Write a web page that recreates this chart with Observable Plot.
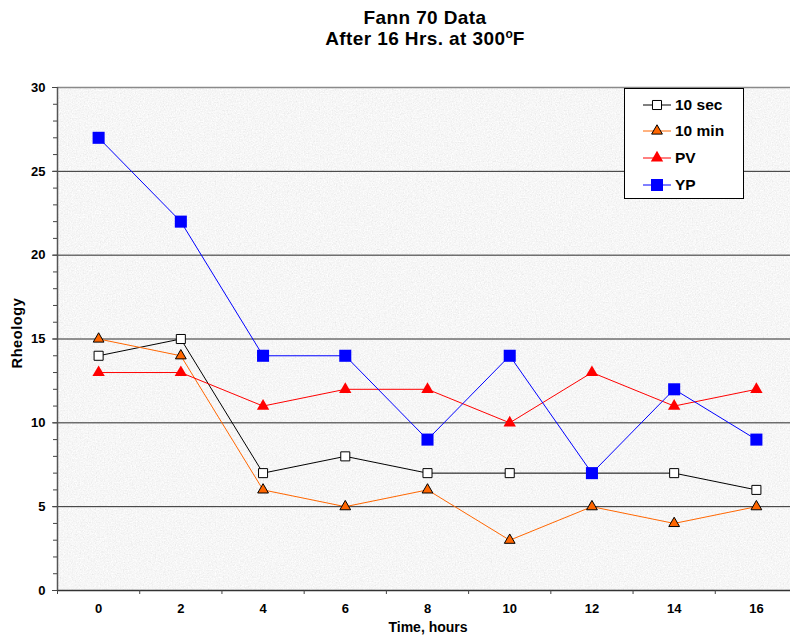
<!DOCTYPE html>
<html><head><meta charset="utf-8">
<script src="https://cdn.jsdelivr.net/npm/d3@7"></script>
<script src="https://cdn.jsdelivr.net/npm/@observablehq/plot@0.6"></script>
<style>
body{margin:0;background:#fff;font-family:"Liberation Sans",Arial,sans-serif;}
#wrap{width:790px;height:644px;position:relative;overflow:hidden;}
#title{height:62px;position:relative;}
.t{position:absolute;left:0;width:850px;text-align:center;font-weight:bold;font-size:19px;letter-spacing:0.4px;line-height:22px;color:#000;white-space:nowrap;}
#legend{position:absolute;left:624px;top:88px;width:118px;height:109px;background:#fff;border:1px solid #000;}
#legend .row{position:absolute;left:0;height:20px;width:118px;}
#legend .row span{position:absolute;left:50px;top:1px;font-weight:bold;font-size:15.5px;line-height:18px;white-space:nowrap;}
#legend svg{position:absolute;left:18px;top:0;}
</style></head><body>
<div id="wrap">
<div id="title">
 <div class="t" style="top:7px">Fann 70 Data</div>
 <div class="t" style="top:28px">After 16 Hrs. at 300<span style="font-size:12px;position:relative;top:-7px;letter-spacing:0">o</span>F</div>
</div>
<div id="chart"></div>
<div id="legend"></div>
</div>
<script>
const hours = [0, 2, 4, 6, 8, 10, 12, 14, 16];
const sec10 = [14, 15, 7, 8, 7, 7, 7, 7, 6];
const min10 = [15, 14, 6, 5, 6, 3, 5, 4, 5];
const pv    = [13, 13, 11, 12, 12, 10, 13, 11, 12];
const yp    = [27, 22, 14, 14, 9, 14, 7, 12, 9];
const seriesNames = ["10 sec", "10 min", "PV", "YP"];
const yMajor = [0, 5, 10, 15, 20, 25, 30];

const seriesValues = [sec10, min10, pv, yp];
const styles = [
  {line: "#000000", symbol: "square",   fill: "#ffffff", stroke: "#000000", r: 5.1},
  {line: "#ff6600", symbol: "triangle", fill: "#ff6600", stroke: "#000000", r: 4.0},
  {line: "#ff0000", symbol: "triangle", fill: "#ff0000", stroke: "none",    r: 4.6},
  {line: "#0000ff", symbol: "square",   fill: "#0000ff", stroke: "none",    r: 6.8}
];
const rows = seriesNames.map((name, i) => hours.map((h, j) => ({series: name, hour: h, value: seriesValues[i][j]})));
const boundaries = hours.map(h => h - 1).concat([hours[hours.length - 1] + 1]);
const yMinor = d3.range(0, 31);

const marks = [
  Plot.frame({fill: "#ebebeb", stroke: "none"}),
  Plot.ruleY(yMajor.filter(v => v > 0 && v < 30), {stroke: "#2a2a2a", strokeWidth: 1}),
  Plot.ruleY([30], {stroke: "#8a8a8a", strokeWidth: 1.5}),
  Plot.ruleY([0], {stroke: "#333", strokeWidth: 1.5}),
  Plot.ruleX([-1], {stroke: "#555", strokeWidth: 1.5}),
  Plot.axisY({ticks: yMinor, tickSize: 4, tickFormat: () => "", label: null, stroke: "#444"}),
  Plot.axisY({ticks: yMajor, tickSize: 5, tickPadding: 7, label: null, fontSize: 13, fontWeight: "bold", fill: "#000", stroke: "#444"}),
  Plot.axisX({ticks: boundaries, tickSize: 4, tickFormat: () => "", label: null, stroke: "#444"}),
  Plot.axisX({ticks: hours, tickSize: 0, tickPadding: 13, tickFormat: d => String(d), label: null, fontSize: 13, fontWeight: "bold", fill: "#000"}),
  Plot.text(["Time, hours"], {frameAnchor: "bottom", dx: 4, dy: 41, fontSize: 14, fontWeight: "bold", fill: "#000"}),
  Plot.text(["Rheology"], {frameAnchor: "left", textAnchor: "middle", dx: -40, dy: -6, rotate: -90, fontSize: 14.5, fontWeight: "bold", fill: "#000"})
];
rows.forEach((data, i) => {
  const s = styles[i];
  marks.push(Plot.line(data, {x: "hour", y: "value", stroke: s.line, strokeWidth: 1}));
  marks.push(Plot.dot(data, {x: "hour", y: "value", symbol: () => s.symbol, r: s.r, fill: s.fill, stroke: s.stroke, strokeWidth: 1}));
});

const chart = Plot.plot({
  width: 790, height: 582,
  marginTop: 25, marginBottom: 54, marginLeft: 57, marginRight: 0,
  x: {domain: [-1, 17], range: [57, 797]},
  y: {domain: [0, 30], range: [528, 25]},
  symbol: {type: "identity"},
  style: {fontFamily: "Liberation Sans, Arial, sans-serif", background: "#fff", overflow: "hidden"},
  marks
});
document.getElementById("chart").appendChild(chart);

// speckled background texture on the plot frame
const svg = d3.select(chart);
const defs = svg.insert("defs", ":first-child");
const f = defs.append("filter").attr("id", "speckle").attr("x", 0).attr("y", 0).attr("width", "100%").attr("height", "100%");
f.append("feTurbulence").attr("type", "fractalNoise").attr("baseFrequency", 0.75).attr("numOctaves", 3).attr("seed", 7).attr("result", "n");
f.append("feColorMatrix").attr("in", "n").attr("type", "matrix")
  .attr("values", "0.33 0.33 0.33 0 0  0.33 0.33 0.33 0 0  0.33 0.33 0.33 0 0  0 0 0 0 1").attr("result", "g");
const ct = f.append("feComponentTransfer").attr("in", "g").attr("result", "c");
["feFuncR", "feFuncG", "feFuncB"].forEach(k => ct.append(k).attr("type", "linear").attr("slope", 0.45).attr("intercept", 0.7));
f.append("feComposite").attr("in", "c").attr("in2", "SourceGraphic").attr("operator", "in");
svg.select('g[aria-label="frame"] rect, rect[aria-label="frame"]').attr("filter", "url(#speckle)");
svg.selectAll('g[aria-label="text"] text').filter(function() { return this.textContent === "Rheology"; }).style("letter-spacing", "0.6px");

// legend
const legend = d3.select("#legend");
const rowTops = [6, 32, 59, 86];
seriesNames.forEach((name, i) => {
  const s = styles[i];
  const row = legend.append("div").attr("class", "row").style("top", rowTops[i] + "px");
  const sv = row.append("svg").attr("width", 30).attr("height", 20);
  sv.append("line").attr("x1", 0).attr("x2", 28).attr("y1", 10).attr("y2", 10).attr("stroke", s.line).attr("stroke-width", 1);
  const sym = s.symbol === "square" ? d3.symbolSquare : d3.symbolTriangle;
  sv.append("path").attr("transform", "translate(14,10)")
    .attr("d", d3.symbol(sym, Math.PI * s.r * s.r)())
    .attr("fill", s.fill).attr("stroke", s.stroke).attr("stroke-width", 1);
  row.append("span").text(name);
});
</script>
</body></html>
